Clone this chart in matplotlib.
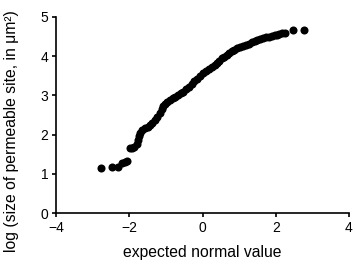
import matplotlib
matplotlib.use("Agg")
import matplotlib.pyplot as plt

plt.rcParams['font.family'] = ['Liberation Sans', 'DejaVu Sans']

# expected normal value vs log size
expected = [-2.77, -2.46, -2.30, -2.20, -2.12, -2.07, -1.98, -1.92, -1.86, -1.80,
            -1.77, -1.73, -1.70, -1.64, -1.57, -1.50, -1.43, -1.37, -1.30, -1.23,
            -1.16, -1.11, -1.07, -1.02, -0.98, -0.90, -0.82, -0.75, -0.68, -0.60,
            -0.52, -0.45, -0.38, -0.30, -0.22, -0.15, -0.07, 0.02, 0.10, 0.18,
            0.26, 0.33, 0.39, 0.46, 0.53, 0.60, 0.66, 0.73, 0.80, 0.87,
            0.94, 1.02, 1.10, 1.18, 1.26, 1.34, 1.42, 1.50, 1.58, 1.66,
            1.74, 1.82, 1.90, 1.97, 2.03, 2.10, 2.17, 2.26, 2.47, 2.76]
log_size = [1.14, 1.18, 1.18, 1.27, 1.30, 1.33, 1.65, 1.66, 1.68, 1.76,
            1.86, 1.97, 2.05, 2.11, 2.16, 2.20, 2.24, 2.30, 2.37, 2.45,
            2.54, 2.64, 2.73, 2.79, 2.84, 2.89, 2.93, 2.97, 3.01, 3.05,
            3.09, 3.15, 3.22, 3.29, 3.36, 3.42, 3.49, 3.56, 3.62, 3.67,
            3.73, 3.78, 3.82, 3.88, 3.94, 3.99, 4.03, 4.08, 4.12, 4.16,
            4.20, 4.23, 4.26, 4.29, 4.32, 4.35, 4.38, 4.41, 4.44, 4.46,
            4.48, 4.50, 4.52, 4.53, 4.54, 4.56, 4.58, 4.60, 4.67, 4.66]

x_ticks = [-4, -2, 0, 2, 4]
y_ticks = [0, 1, 2, 3, 4, 5]

fig = plt.figure(figsize=(3.55, 2.64), dpi=100)
ax = fig.add_axes([0.158, 0.193, 0.825, 0.743])

ax.plot(expected, log_size, 'o', color='black', markersize=5.8, markeredgewidth=0)

ax.set_xlim(-4, 4)
ax.set_ylim(0, 5)
ax.set_xticks(x_ticks)
ax.set_yticks(y_ticks)

for side in ['top', 'right']:
    ax.spines[side].set_visible(False)
for side in ['left', 'bottom']:
    ax.spines[side].set_linewidth(1.2)
ax.tick_params(direction='out', length=3, width=1.2, labelsize=10, pad=2.5)

ax.set_xlabel('expected normal value', fontsize=11.3)
ax.set_ylabel('log (size of permeable site, in μm²)', fontsize=11.3)
ax.xaxis.set_label_coords(0.5, -0.163)
ax.yaxis.set_label_coords(-0.126, 0.42)

fig.savefig('out.png', dpi=100)
